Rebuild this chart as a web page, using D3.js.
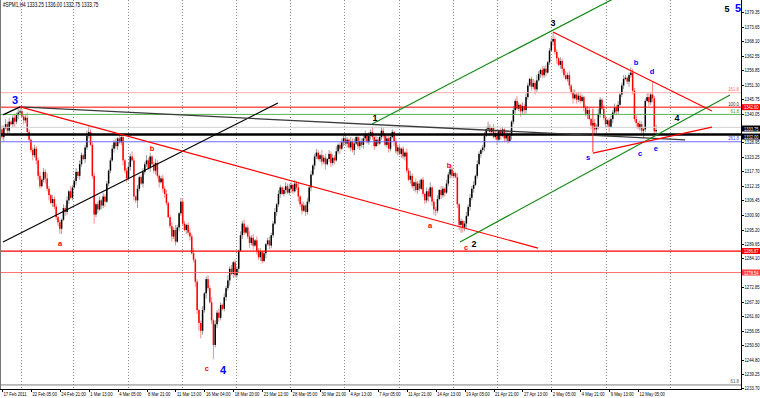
<!DOCTYPE html>
<html lang="en">
<head>
<meta charset="utf-8">
<title>#SPM1,H4</title>
<script src="https://d3js.org/d3.v7.min.js"></script>
<style>
  body { margin: 0; background: #fff; }
  svg { display: block; font-family: "Liberation Sans", Arial, sans-serif; }
</style>
</head>
<body>
<svg id="chart"></svg>
<script>
// ---- values ----
var chartTitle = "#SPM1,H4  1333.25 1336.00 1332.75 1333.75";
var firstOpen = 1334.0;

// H4 closes, one per bar
var closes = [
  1331.0,1334.5,1336.0,1333.5,1337.0,1336.0,1338.5,1337.0,1339.5,1340.5,
  1341.0,1339.0,1337.5,1338.5,1333.0,1330.0,1326.0,1324.0,1326.5,1322.0,
  1316.0,1312.0,1314.5,1317.5,1315.0,1311.0,1308.5,1305.5,1307.0,1304.0,
  1300.0,1298.0,1295.5,1299.0,1303.5,1302.0,1306.5,1310.0,1307.5,1311.5,
  1314.0,1317.5,1316.0,1320.5,1324.0,1322.5,1327.0,1331.5,1333.0,1328.0,
  1316.0,1301.0,1305.0,1303.0,1306.5,1304.5,1308.0,1306.0,1313.0,1318.0,
  1322.0,1326.5,1329.0,1327.5,1330.5,1329.0,1331.0,1322.0,1318.0,1315.0,
  1319.5,1323.5,1322.0,1308.0,1306.5,1311.0,1315.5,1313.0,1317.5,1320.5,
  1322.0,1319.0,1323.5,1320.5,1318.0,1321.0,1316.0,1313.5,1315.0,1311.0,
  1309.0,1305.5,1300.0,1296.5,1292.5,1295.0,1290.5,1296.0,1301.5,1306.0,
  1297.5,1295.0,1297.0,1294.0,1292.5,1286.0,1283.5,1275.0,1264.0,1259.0,
  1256.0,1264.0,1270.5,1276.0,1272.5,1267.0,1260.0,1250.5,1258.5,1263.0,
  1261.0,1266.0,1264.5,1269.0,1272.5,1275.5,1280.0,1278.0,1282.5,1277.5,
  1280.0,1287.0,1293.0,1297.5,1294.0,1296.0,1292.5,1290.0,1292.0,1289.0,
  1291.0,1287.0,1284.5,1286.5,1283.0,1286.0,1289.5,1291.0,1289.0,1293.0,
  1297.5,1302.0,1305.0,1309.0,1311.5,1309.0,1310.5,1312.0,1309.5,1311.0,
  1312.5,1310.0,1313.0,1311.5,1308.0,1305.0,1302.5,1304.5,1302.0,1306.0,
  1311.5,1316.5,1320.0,1323.5,1325.0,1322.5,1324.0,1321.5,1323.0,1320.5,
  1322.5,1324.5,1321.0,1323.0,1322.0,1325.5,1328.0,1326.5,1329.0,1330.5,
  1328.5,1330.0,1327.0,1329.5,1326.0,1328.5,1331.0,1327.5,1329.5,1328.0,
  1330.5,1332.0,1329.0,1331.5,1333.0,1331.0,1327.5,1330.0,1328.5,1331.0,
  1333.5,1332.0,1328.0,1330.5,1326.5,1331.0,1333.0,1329.5,1325.5,1327.0,
  1324.5,1326.5,1323.5,1325.0,1318.0,1314.5,1316.0,1312.0,1313.5,1310.5,
  1313.0,1311.0,1314.5,1309.0,1306.5,1310.0,1308.0,1311.5,1306.0,1303.0,
  1302.5,1307.0,1310.5,1308.5,1311.0,1309.5,1313.0,1316.5,1318.5,1316.0,
  1317.0,1315.5,1305.0,1297.0,1298.5,1296.0,1297.5,1300.5,1304.0,1307.5,
  1311.0,1312.5,1316.0,1320.5,1324.5,1326.0,1327.0,1331.5,1334.0,1335.0,
  1333.0,1334.5,1331.0,1332.5,1330.0,1333.5,1331.5,1334.0,1330.5,1332.0,
  1329.5,1331.5,1337.0,1341.5,1345.0,1342.0,1343.5,1341.0,1343.0,1341.5,
  1346.5,1351.0,1353.5,1350.5,1352.0,1349.5,1353.0,1355.5,1357.0,1355.0,
  1357.5,1356.0,1360.0,1364.5,1368.0,1369.0,1364.0,1361.5,1359.0,1360.5,
  1357.5,1355.0,1353.5,1355.0,1351.0,1348.5,1346.0,1347.5,1345.5,1347.0,
  1345.0,1346.5,1342.5,1340.0,1341.5,1338.0,1335.5,1336.5,1334.0,1335.0,
  1340.0,1345.5,1342.0,1338.5,1336.0,1337.5,1335.0,1338.0,1340.5,1342.5,
  1341.0,1343.5,1347.5,1351.0,1353.5,1354.0,1352.5,1355.0,1356.0,1349.0,
  1338.0,1336.5,1334.5,1336.0,1333.5,1334.0,1345.0,1346.5,1344.5,1347.5,
  1346.0,1333.25,1333.75
];

// wick length beyond the body, in half points (one base-36 digit per bar)
var wickUp =
  "3242312323 3212421232 2313242132 2121323142 2313212452 3212313221 " +
  "2323132312 3242131232 4231232123 2312324213 3212324121 2312324132 " +
  "3213242312 2132312423 1323121232 2313212324 2132412313 2312321423 " +
  "1323241232 3213242132 2313241322 3212322122 3121324213 2312132412 " +
  "2313213243 2131212323 2313212324 2132312213 2313242132 3212324213 " +
  "2312352213 2132312423 3212321232 4213212323 2312321243 2313212332 a24";
var wickDown =
  "2313212423 2132312423 3212424132 2344132312 1323213221 2723132412 " +
  "2132312423 2313262132 2131232413 3212423132 2132312436 6324213b23 " +
  "3212324132 2313212423 1323214132 2132312312 3212423132 2313212324 " +
  "1232312413 2313241232 3212323121 2312321423 1323213242 3212324134 " +
  "4213231232 2134643413 2312132312 3212423132 2132312423 3213242132 " +
  "2312132413 3212324132 2132413243 2312324132 3212312423 2312362132 321";

// visible price scale labels (the ones under the price boxes are hidden)
var priceTicks = [1379.35, 1373.65, 1368.10, 1362.55, 1356.85, 1351.30, 1345.75,
  1340.05, 1328.95, 1323.25, 1317.70, 1312.15, 1306.45, 1300.90, 1295.20,
  1289.65, 1284.10, 1272.85, 1267.30, 1261.60, 1256.05, 1250.50, 1244.80,
  1239.25, 1233.70];

// one label every 16 bars
var dateLabels = ["17 Feb 2011", "22 Feb 05:00", "24 Feb 21:00", "1 Mar 13:00",
  "4 Mar 05:00", "8 Mar 21:00", "11 Mar 13:00", "16 Mar 04:00", "18 Mar 20:00",
  "23 Mar 12:00", "28 Mar 05:00", "30 Mar 21:00", "4 Apr 13:00", "7 Apr 05:00",
  "11 Apr 21:00", "14 Apr 13:00", "19 Apr 05:00", "21 Apr 21:00", "27 Apr 13:00",
  "2 May 05:00", "4 May 21:00", "9 May 13:00", "12 May 05:00"];

// bar positions of the weekly grid lines
var weekBars = [10.5, 39.5, 69.5, 99.5, 129.5, 159.5, 189.5, 219.5, 249.5, 274, 304, 334.5, 369.5];

// horizontal levels (fibo lines, ask line, support lines)
var levelPrices = [1348.2, 1342.6, 1339.8, 1334.8, 1332.0, 1329.2, 1286.87, 1278.54, 1235.0];
var levelNames  = ["161.8", "100.0", "61.8", "", "", "261.8", "", "", "61.8"];

// axis price boxes
var boxPrices = [1342.60, 1333.75, 1332.00, 1286.87, 1278.54];
var boxKinds  = ["red", "black", "black", "red", "pink"];

// trend lines: [bar0, price0, bar1, price1, kind]
var trendLines = [
  [0.55, 1290.4, 152.7, 1344.2, "black"],
  [0.55, 1339.6, 10, 1342.7, "black"],
  [10, 1342.7, 378, 1329.9, "grey"],
  [10, 1342.7, 296.6, 1288.0, "red"],
  [204.8, 1336.1, 345, 1387.0, "green"],
  [253.5, 1290.4, 402.9, 1347.3, "green"],
  [304.9, 1371.7, 392.9, 1341.1, "red"],
  [327, 1324.8, 392.9, 1334.9, "red"],
  [327, 1342.0, 327, 1325.2, "thinred"]
];

// wave counts: [text, bar, price, kind]
var waveLabels = [
  ["3", 7.2, 1343.8, "bigBlue"],
  ["a", 32.1, 1288.8, "red"],
  ["b", 83, 1325.6, "red"],
  ["c", 113.4, 1240.4, "red"],
  ["4", 122.3, 1239.2, "bigBlue"],
  ["1", 206.4, 1337.2, "black"],
  ["a", 236.9, 1295.8, "red"],
  ["b", 247.4, 1319.0, "red"],
  ["c", 256.8, 1287.3, "red"],
  ["2", 261.2, 1288.4, "black"],
  ["3", 304.9, 1374.0, "black"],
  ["b", 350.9, 1358.9, "blue"],
  ["d", 359.7, 1355.4, "blue"],
  ["s", 324.3, 1322.1, "blue"],
  ["c", 353.1, 1323.7, "blue"],
  ["e", 361.9, 1325.6, "blue"],
  ["4", 373.5, 1337.2, "black"],
  ["5", 401.2, 1379.5, "black"],
  ["5", 407.3, 1379.5, "bigBlue"]
];

// ---- layout / styles ----
var config = { w: 760, h: 398, right: 741, bottom: 389, x0: 2, barW: 1.807, squeeze: 0.72 };

var levelStyle = [
  { c: "#ffaaaa", w: 1 }, { c: "#ff0000", w: 1 }, { c: "#55b455", w: 1 },
  { c: "#d0d0d0", w: 1 }, { c: "#000000", w: 2.6 }, { c: "#6a6aff", w: 1 },
  { c: "#ff0000", w: 1.2 }, { c: "#ff7070", w: 1 }, { c: "#808080", w: 1 }
];
var levelLabelColor = ["#ff7070", "#333", "#40a040", "", "", "#4040ff", "", "", "#555"];
var lineStyle = {
  black: { c: "#000", w: 1.2 }, grey: { c: "#3a3a3a", w: 1.3 },
  red: { c: "#ff0000", w: 1.2 }, green: { c: "#138a13", w: 1.2 },
  thinred: { c: "#ff2020", w: 0.9 }
};
var waveStyle = {
  bigBlue: { c: "#0000ff", s: 11 }, black: { c: "#000", s: 9 },
  red: { c: "#ff0000", s: 7.5 }, blue: { c: "#0000ff", s: 7.5 }
};
var boxFill = { red: "#ff0000", black: "#000", pink: "#ff3c3c" };

var x = d3.scaleLinear().domain([0, 1]).range([config.x0, config.x0 + config.barW]);
var y = d3.scaleLinear().domain([1233.70, 1379.35]).range([388.3, 12.3]);

// small squeezed text, like the platform's tiny scale font
function tinyText(sel, tx, ty, size) {
  return sel.append("g")
    .attr("transform", function(d, i) {
      return "translate(" + tx(d, i) + "," + ty(d, i) + ") scale(" + config.squeeze + ",1)";
    })
    .append("text")
    .attr("font-size", size);
}

var svg = d3.select("#chart").attr("width", config.w).attr("height", config.h);

svg.append("clipPath").attr("id", "plotclip")
  .append("rect").attr("x", 0).attr("y", 0)
  .attr("width", config.right).attr("height", config.bottom);

var plot = svg.append("g").attr("clip-path", "url(#plotclip)");

// weekly dotted grid
plot.selectAll("line.grid")
  .data(weekBars)
  .enter().append("line")
  .attr("class", "grid")
  .attr("x1", function(d) { return Math.round(x(d)) + 0.5; })
  .attr("x2", function(d) { return Math.round(x(d)) + 0.5; })
  .attr("y1", 0).attr("y2", config.bottom)
  .attr("stroke", "#8a8a8a").attr("stroke-dasharray", "1,2");

// build OHLC bars
var digit = function(s, i) {
  var v = parseInt(s.charAt(i), 36);
  return isNaN(v) ? 0 : v * 0.5;
};
var up = wickUp.replace(/ /g, ""), dn = wickDown.replace(/ /g, "");
var bars = closes.map(function(c, i) {
  var o = i ? closes[i - 1] : firstOpen;
  return {
    i: i, o: o, c: c,
    h: Math.max(o, c) + digit(up, i),
    l: Math.min(o, c) - digit(dn, i)
  };
});

var candles = plot.append("g");
candles.selectAll("line")
  .data(bars)
  .enter().append("line")
  .attr("x1", function(d) { return x(d.i); })
  .attr("x2", function(d) { return x(d.i); })
  .attr("y1", function(d) { return y(d.h); })
  .attr("y2", function(d) { return y(d.l); })
  .attr("stroke", function(d) { return d.c >= d.o ? "#9c9c9c" : "#ff8c8c"; })
  .attr("stroke-width", 1);

candles.selectAll("rect")
  .data(bars)
  .enter().append("rect")
  .attr("x", function(d) { return x(d.i) - 0.75; })
  .attr("width", 1.5)
  .attr("y", function(d) { return y(Math.max(d.o, d.c)); })
  .attr("height", function(d) { return Math.max(0.8, Math.abs(y(d.o) - y(d.c))); })
  .attr("fill", function(d) { return d.c >= d.o ? "#000" : "#ff0000"; });

// horizontal levels
plot.selectAll("line.level")
  .data(levelPrices)
  .enter().append("line")
  .attr("class", "level")
  .attr("x1", 0).attr("x2", config.right)
  .attr("y1", function(d) { return y(d); })
  .attr("y2", function(d) { return y(d); })
  .attr("stroke", function(d, i) { return levelStyle[i].c; })
  .attr("stroke-width", function(d, i) { return levelStyle[i].w; });

var levelText = plot.selectAll("g.level")
  .data(levelPrices)
  .enter();
tinyText(levelText, function() { return config.right - 2; },
         function(d) { return y(d) - 1.5; }, 6)
  .attr("text-anchor", "end")
  .attr("fill", function(d, i) { return levelLabelColor[i]; })
  .text(function(d, i) { return levelNames[i]; });

// trend lines
plot.selectAll("line.trend")
  .data(trendLines)
  .enter().append("line")
  .attr("class", "trend")
  .attr("x1", function(d) { return x(d[0]); })
  .attr("y1", function(d) { return y(d[1]); })
  .attr("x2", function(d) { return x(d[2]); })
  .attr("y2", function(d) { return y(d[3]); })
  .attr("stroke", function(d) { return lineStyle[d[4]].c; })
  .attr("stroke-width", function(d) { return lineStyle[d[4]].w; });

// wave labels
svg.selectAll("text.wave")
  .data(waveLabels)
  .enter().append("text")
  .attr("class", "wave")
  .attr("x", function(d) { return x(d[1]); })
  .attr("y", function(d) { return y(d[2]); })
  .attr("text-anchor", "middle")
  .attr("font-weight", "bold")
  .attr("font-size", function(d) { return waveStyle[d[3]].s; })
  .attr("fill", function(d) { return waveStyle[d[3]].c; })
  .text(function(d) { return d[0]; });

tinyText(svg, function() { return 3; }, function() { return 7; }, 6.5)
  .attr("fill", "#000")
  .text(chartTitle);

// frame
svg.append("line").attr("x1", 0.5).attr("x2", 0.5).attr("y1", 0).attr("y2", config.bottom)
  .attr("stroke", "#777");
svg.append("line").attr("x1", config.right + 0.5).attr("x2", config.right + 0.5)
  .attr("y1", 0).attr("y2", config.bottom + 1).attr("stroke", "#000");
svg.append("line").attr("x1", 0).attr("x2", config.right + 1)
  .attr("y1", config.bottom + 0.5).attr("y2", config.bottom + 0.5).attr("stroke", "#000");

// price axis
var pa = svg.append("g");
pa.selectAll("line")
  .data(priceTicks)
  .enter().append("line")
  .attr("x1", config.right).attr("x2", config.right + 3)
  .attr("y1", function(d) { return Math.round(y(d)) + 0.5; })
  .attr("y2", function(d) { return Math.round(y(d)) + 0.5; })
  .attr("stroke", "#000");
tinyText(pa.selectAll("g.tick").data(priceTicks).enter(),
         function() { return config.right + 3.5; },
         function(d) { return y(d) + 2; }, 5.8)
  .attr("fill", "#000")
  .text(function(d) { return d3.format(".2f")(d); });

// price boxes on the axis
var boxes = svg.append("g").selectAll("g")
  .data(boxPrices)
  .enter().append("g")
  .attr("transform", function(d, i) {
    var shift = i === 1 ? -1.5 : i === 2 ? 2 : 0;
    return "translate(" + (config.right + 1) + "," + (y(d) + shift) + ")";
  });
boxes.append("rect")
  .attr("x", 0).attr("y", -3).attr("width", 18).attr("height", 6)
  .attr("fill", function(d, i) { return boxFill[boxKinds[i]]; });
tinyText(boxes, function() { return 2; }, function() { return 2; }, 5.6)
  .attr("fill", "#fff")
  .text(function(d) { return d3.format(".2f")(d); });

// time axis
var ta = svg.append("g");
ta.selectAll("line")
  .data(dateLabels)
  .enter().append("line")
  .attr("x1", function(d, i) { return Math.round(x(i * 16)) + 0.5; })
  .attr("x2", function(d, i) { return Math.round(x(i * 16)) + 0.5; })
  .attr("y1", config.bottom).attr("y2", config.bottom + 3)
  .attr("stroke", "#000");
tinyText(ta.selectAll("g.date").data(dateLabels).enter(),
         function(d, i) { return x(i * 16) + 1.5; },
         function() { return config.bottom + 7; }, 5.8)
  .attr("fill", "#000")
  .text(function(d) { return d; });
</script>
</body>
</html>
